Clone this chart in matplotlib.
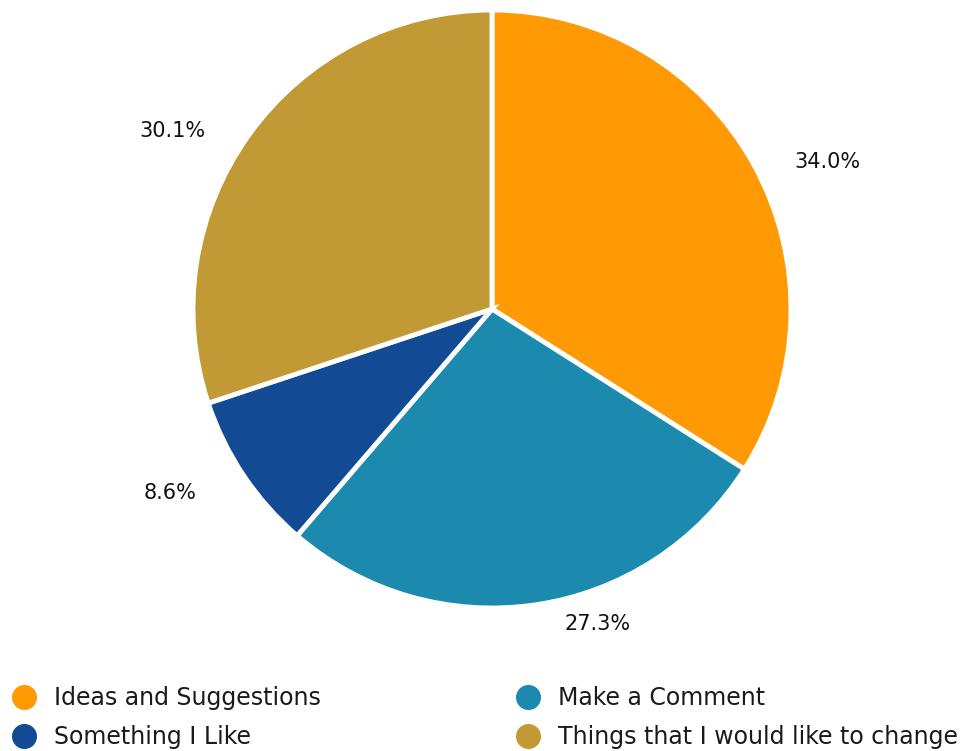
import numpy as np
import matplotlib.pyplot as plt
from matplotlib.lines import Line2D

# Pie data (clockwise from 12 o'clock)
categories = ['Ideas and Suggestions', 'Make a Comment', 'Something I Like',
              'Things that I would like to change']
shares = [34.0, 27.3, 8.6, 30.1]
colors = ['#FF9A05', '#1B8AAE', '#124A94', '#C19A36']

# label placement relative to each wedge's middle (angle shift in deg, radius factor)
label_shift = [-5.1, 10.1, -4.1, 6.7]
label_rad = [1.225, 1.11, 1.24, 1.225]

plt.rcParams['font.family'] = ['DejaVu Sans']

fig = plt.figure(figsize=(9.71, 7.51), dpi=100)
ax = fig.add_axes([0, 0, 1, 1])

cx, cy, R = 492, 442, 299
wedges, _ = ax.pie(shares, colors=colors, startangle=90, counterclock=False,
                   center=(cx, cy), radius=R,
                   wedgeprops=dict(edgecolor='white', linewidth=3.5))

for w, s, da, f in zip(wedges, shares, label_shift, label_rad):
    mid = np.deg2rad((w.theta1 + w.theta2) / 2 + da)
    ax.text(cx + f * R * np.cos(mid), cy + f * R * np.sin(mid), '%.1f%%' % s,
            ha='center', va='center', fontsize=15, color='#111111')

# pie() resets the limits, so set them afterwards
ax.set_xlim(0, 971)
ax.set_ylim(0, 751)
ax.set_aspect('equal')
ax.axis('off')

handles = [Line2D([], [], marker='o', linestyle='', markersize=17,
                  markerfacecolor=c, markeredgecolor=c) for c in colors]
order = [0, 2, 1, 3]
leg = fig.legend([handles[i] for i in order], [categories[i] for i in order],
                 ncol=2, loc='lower left', bbox_to_anchor=(0.0126, 0.002),
                 frameon=False, fontsize=17, handletextpad=0.75,
                 borderpad=0, borderaxespad=0,
                 columnspacing=8.3, labelspacing=0.66, handlelength=1.0)
for t in leg.get_texts():
    t.set_color('#1a1a1a')

fig.savefig('out.png', dpi=100)
